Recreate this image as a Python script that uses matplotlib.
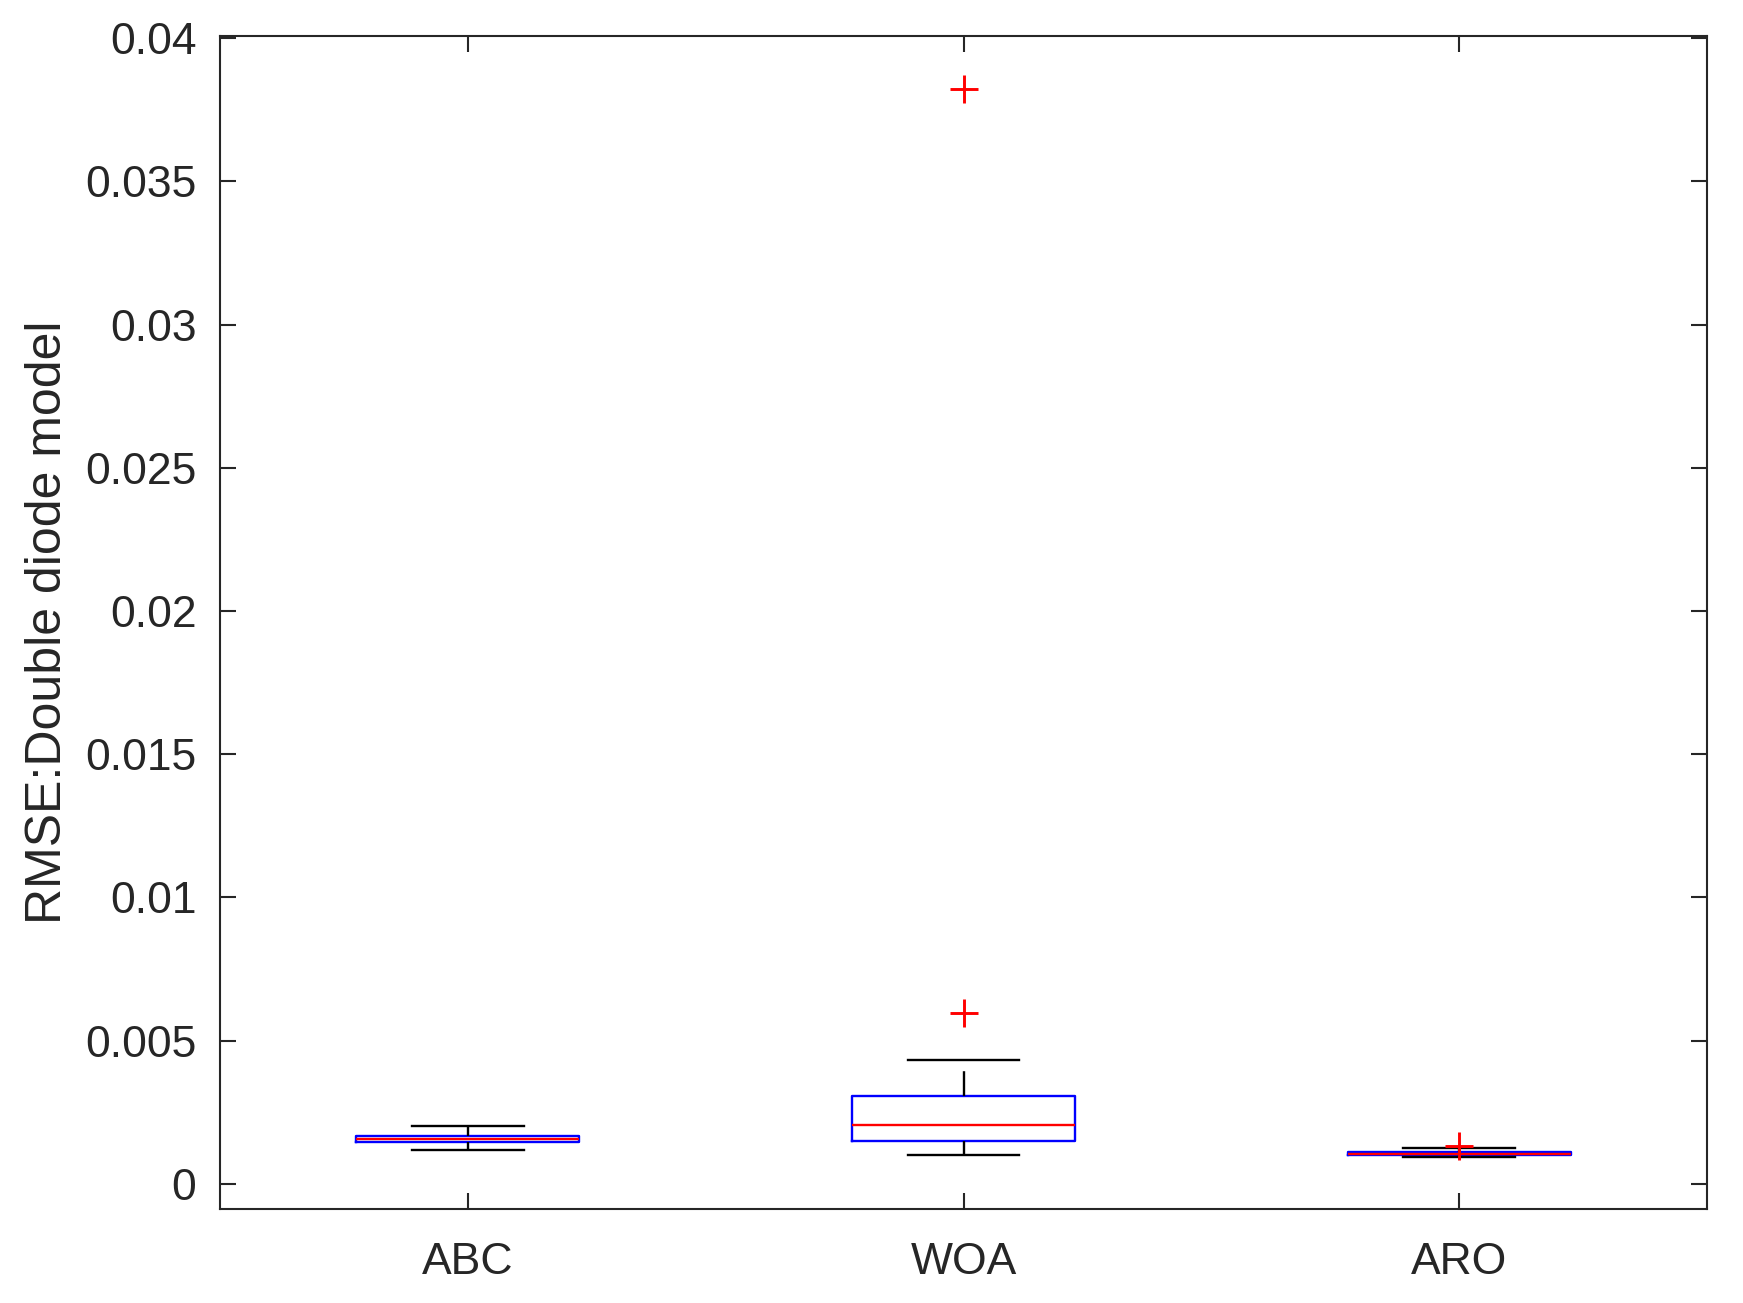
import matplotlib
matplotlib.use("Agg")
import matplotlib.pyplot as plt

plt.rcParams['font.family'] = ['Liberation Sans', 'DejaVu Sans']

# data
labels = ['ABC', 'WOA', 'ARO']
med = [0.00156, 0.00205, 0.00105]
q1 = [0.00146, 0.00149, 0.00099]
q3 = [0.00168, 0.00306, 0.00112]
whislo = [0.00118, 0.00100, 0.00094]
whishi = [0.00203, 0.00432, 0.00125]
fliers = [[], [0.03823, 0.00596], [0.00133]]
yticks = [0, 0.005, 0.01, 0.015, 0.02, 0.025, 0.03, 0.035, 0.04]
yticklabels = ['0', '0.005', '0.01', '0.015', '0.02', '0.025', '0.03', '0.035', '0.04']

stats = []
for i in range(len(labels)):
    stats.append(dict(label=labels[i], med=med[i], q1=q1[i], q3=q3[i],
                      whislo=whislo[i], whishi=whishi[i], fliers=fliers[i]))

fig = plt.figure(figsize=(17.43, 13.03), dpi=100)
# axes box: x 220..1707, y 36..1209 px
ax = fig.add_axes([220/1743, 1 - 1209/1303, 1487/1743, 1173/1303])

dark = '#262626'
ax.bxp(stats, positions=[1, 2, 3], widths=0.45,
       boxprops=dict(color='blue', linewidth=1.7),
       medianprops=dict(color='red', linewidth=1.7),
       whiskerprops=dict(color='black', linewidth=1.7, linestyle=(0, (10.5, 6))),
       capprops=dict(color='black', linewidth=1.7),
       capwidths=0.225,
       flierprops=dict(marker='+', markersize=20, markeredgecolor='red',
                       markeredgewidth=2.1, linestyle='none'))

ax.set_xlim(0.5, 3.5)
ax.set_ylim(-0.00088, 0.04008)
ax.set_yticks(yticks)
ax.set_yticklabels(yticklabels)
ax.set_xticks([1, 2, 3])
ax.set_xticklabels(labels)
ax.set_ylabel('RMSE:Double diode model', fontsize=36, color=dark, labelpad=10)

ax.tick_params(direction='in', length=11.5, width=1.5, top=True, right=True,
               labelsize=32, colors=dark)
ax.tick_params(axis='y', pad=17)
ax.tick_params(axis='x', pad=24)
for s in ax.spines.values():
    s.set_linewidth(1.5)
    s.set_color(dark)

fig.savefig('out.png', dpi=100)
